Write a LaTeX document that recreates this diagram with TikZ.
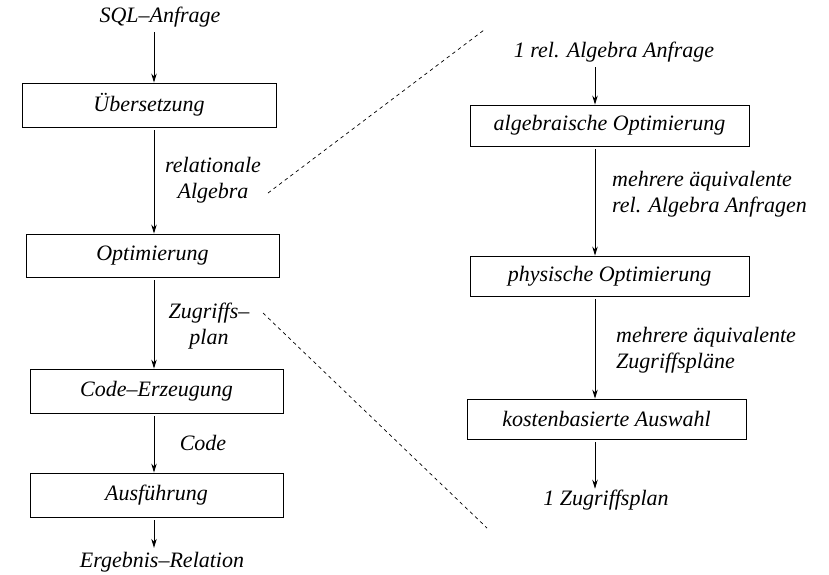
\documentclass[tikz,border=0pt]{standalone}
\usepackage{fontspec}
\setmainfont{Liberation Serif}
\usetikzlibrary{arrows.meta}
\begin{document}
\begin{tikzpicture}[x=1pt,y=-1pt,
  every node/.style={font=\fontsize{22}{25.5}\selectfont\itshape, inner sep=2pt},
  stepbox/.style={draw, line width=0.9pt, inner sep=0pt},
  lbl/.style={align=center},
  lbll/.style={align=left, anchor=west},
  arr/.style={line width=0.8pt, -{Stealth[length=9pt,width=5.5pt]}, shorten <=3pt},
  conn/.style={line width=0.7pt, dash pattern=on 3.5pt off 3.5pt}]
\useasboundingbox (0,0) rectangle (829,574);
% left column
\node (sql) at (160,17) {SQL--Anfrage};
\node[stepbox, minimum width=254pt, minimum height=44pt] (ueb) at (149,105) {Übersetzung};
\node[stepbox, minimum width=253pt, minimum height=43pt] (opt) at (152.5,255.5) {Optimierung};
\node[stepbox, minimum width=253pt, minimum height=44pt] (code) at (156.5,391) {Code--Erzeugung};
\node[stepbox, minimum width=253pt, minimum height=44pt] (ausf) at (156.5,495) {Ausführung};
\node (erg) at (162,562) {Ergebnis--Relation};
\node[lbl] (relalg) at (213,180) {relationale\\Algebra};
\node[lbl] (zplan) at (209,326) {Zugriffs--\\plan};
\node (codel) at (203,443) {Code};
\draw[arr] (sql.south -| 154,0) -- (ueb.north -| 154,0);
\draw[arr] (ueb.south -| 154,0) -- (opt.north -| 154,0);
\draw[arr] (opt.south -| 154,0) -- (code.north -| 154,0);
\draw[arr] (code.south -| 154,0) -- (ausf.north -| 154,0);
\draw[arr] (ausf.south -| 154,0) -- ([yshift=2pt]erg.north -| 154,0);
% right column
\node (relq) at (614,52) {1 rel. Algebra Anfrage};
\node[stepbox, minimum width=279pt, minimum height=41pt] (alg) at (609.5,125.5) {algebraische Optimierung};
\node[stepbox, minimum width=279pt, minimum height=40pt] (phys) at (609.5,276) {physische Optimierung};
\node[stepbox, minimum width=279pt, minimum height=40pt] (kost) at (606.5,419) {kostenbasierte Auswahl};
\node (zp) at (606,500) {1 Zugriffsplan};
\node[lbll] (mehr1) at (610,194) {mehrere äquivalente\\rel. Algebra Anfragen};
\node[lbll] (mehr2) at (614,350) {mehrere äquivalente\\Zugriffspläne};
\draw[arr] (relq.south -| 595,0) -- (alg.north -| 595,0);
\draw[arr] (alg.south -| 595,0) -- (phys.north -| 595,0);
\draw[arr] (phys.south -| 595,0) -- (kost.north -| 595,0);
\draw[arr] (kost.south -| 595,0) -- ([yshift=-1pt]zp.north -| 595,0);
% dashed zoom lines
\coordinate (d1a) at (268,193);
\coordinate (d1b) at (484,30);
\coordinate (d2a) at (263,313);
\coordinate (d2b) at (487,528);
\draw[conn] (d1a) -- (d1b);
\draw[conn] (d2a) -- (d2b);
\end{tikzpicture}
\end{document}
